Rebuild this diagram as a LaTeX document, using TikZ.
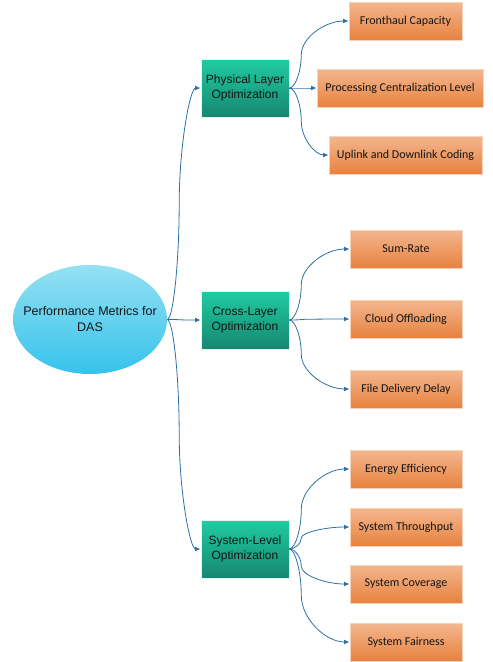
\documentclass[tikz,border=0pt]{standalone}
\usepackage{fontspec}
\setmainfont{Liberation Sans}
\newfontfamily\calib{Carlito}
\usetikzlibrary{shapes.geometric,arrows.meta,calc}
\definecolor{linkc}{HTML}{2E6FA6}
\definecolor{gtop}{HTML}{20CCA2}
\definecolor{gbot}{HTML}{168770}
\definecolor{otop}{HTML}{F3B68E}
\definecolor{obot}{HTML}{E8823F}
\definecolor{etop}{HTML}{95E1F2}
\definecolor{ebot}{HTML}{36C2EC}
\definecolor{txt}{HTML}{141414}
\tikzset{
  root/.style={ellipse, minimum width=154pt, minimum height=109pt, top color=etop, bottom color=ebot, draw=none, inner sep=0pt},
  roottext/.style={text=txt, align=center, font=\fontsize{12.5}{16}\selectfont, inner sep=0pt},
  cat/.style={rectangle, minimum width=88pt, minimum height=58pt, top color=gtop, bottom color=gbot, draw=white!85!gtop, line width=0.6pt, text=txt, align=center, font=\fontsize{12}{15}\selectfont, inner sep=0pt},
  metric/.style={rectangle, minimum height=38pt, top color=otop, bottom color=obot, draw=otop!60!white, line width=0.6pt, text=txt, align=center, font=\calib\fontsize{12}{14}\selectfont, inner sep=0pt},
  link/.style={draw=linkc, line width=0.8pt, -{Latex[length=5.5pt,width=4.5pt]}}
}
\newcommand{\conn}[2]{\draw[link] let \p1=(#1), \p2=(#2) in (\p1) .. controls ({\x1+6pt},\y1) and ({\x1+12pt},{0.75*\y1+0.25*\y2}) .. ({\x1+12pt},{0.5*\y1+0.5*\y2}) .. controls ({\x1+12pt},{0.25*\y1+0.75*\y2}) and ({0.5*\x1+0.5*\x2+6pt},\y2) .. (\p2);}
\begin{document}
\begin{tikzpicture}[x=1pt,y=-1pt]
\useasboundingbox (0,0) rectangle (493,662);
\node[root] (r) at (90,319.5) {};
\node[roottext] (rt) at (r.center) {Performance Metrics for\\DAS};
\node[cat] (p) at (245,88) {Physical Layer\\Optimization};
\node[cat] (c) at (245,320) {Cross-Layer\\Optimization};
\node[cat] (s) at (245,549) {System-Level\\Optimization};
\node[metric, minimum width=113pt] (p1) at (405.5,21) {Fronthaul Capacity};
\node[metric, minimum width=166pt] (p2) at (400,88) {Processing Centralization Level};
\node[metric, minimum width=153pt] (p3) at (405.5,155) {Uplink and Downlink Coding};
\node[metric, minimum width=112pt] (c1) at (406,249) {Sum-Rate};
\node[metric, minimum width=112pt] (c2) at (406,319) {Cloud Offloading};
\node[metric, minimum width=112pt] (c3) at (406,389) {File Delivery Delay};
\node[metric, minimum width=112pt] (s1) at (406,469) {Energy Efficiency};
\node[metric, minimum width=112pt] (s2) at (406,527) {System Throughput};
\node[metric, minimum width=112pt] (s3) at (406,584) {System Coverage};
\node[metric, minimum width=112pt] (s4) at (406,642) {System Fairness};
\conn{r.east}{p.west}
\conn{r.east}{c.west}
\conn{r.east}{s.west}
\conn{p.east}{p1.west}
\conn{p.east}{p2.west}
\conn{p.east}{p3.west}
\conn{c.east}{c1.west}
\conn{c.east}{c2.west}
\conn{c.east}{c3.west}
\conn{s.east}{s1.west}
\conn{s.east}{s2.west}
\conn{s.east}{s3.west}
\conn{s.east}{s4.west}
\end{tikzpicture}
\end{document}
